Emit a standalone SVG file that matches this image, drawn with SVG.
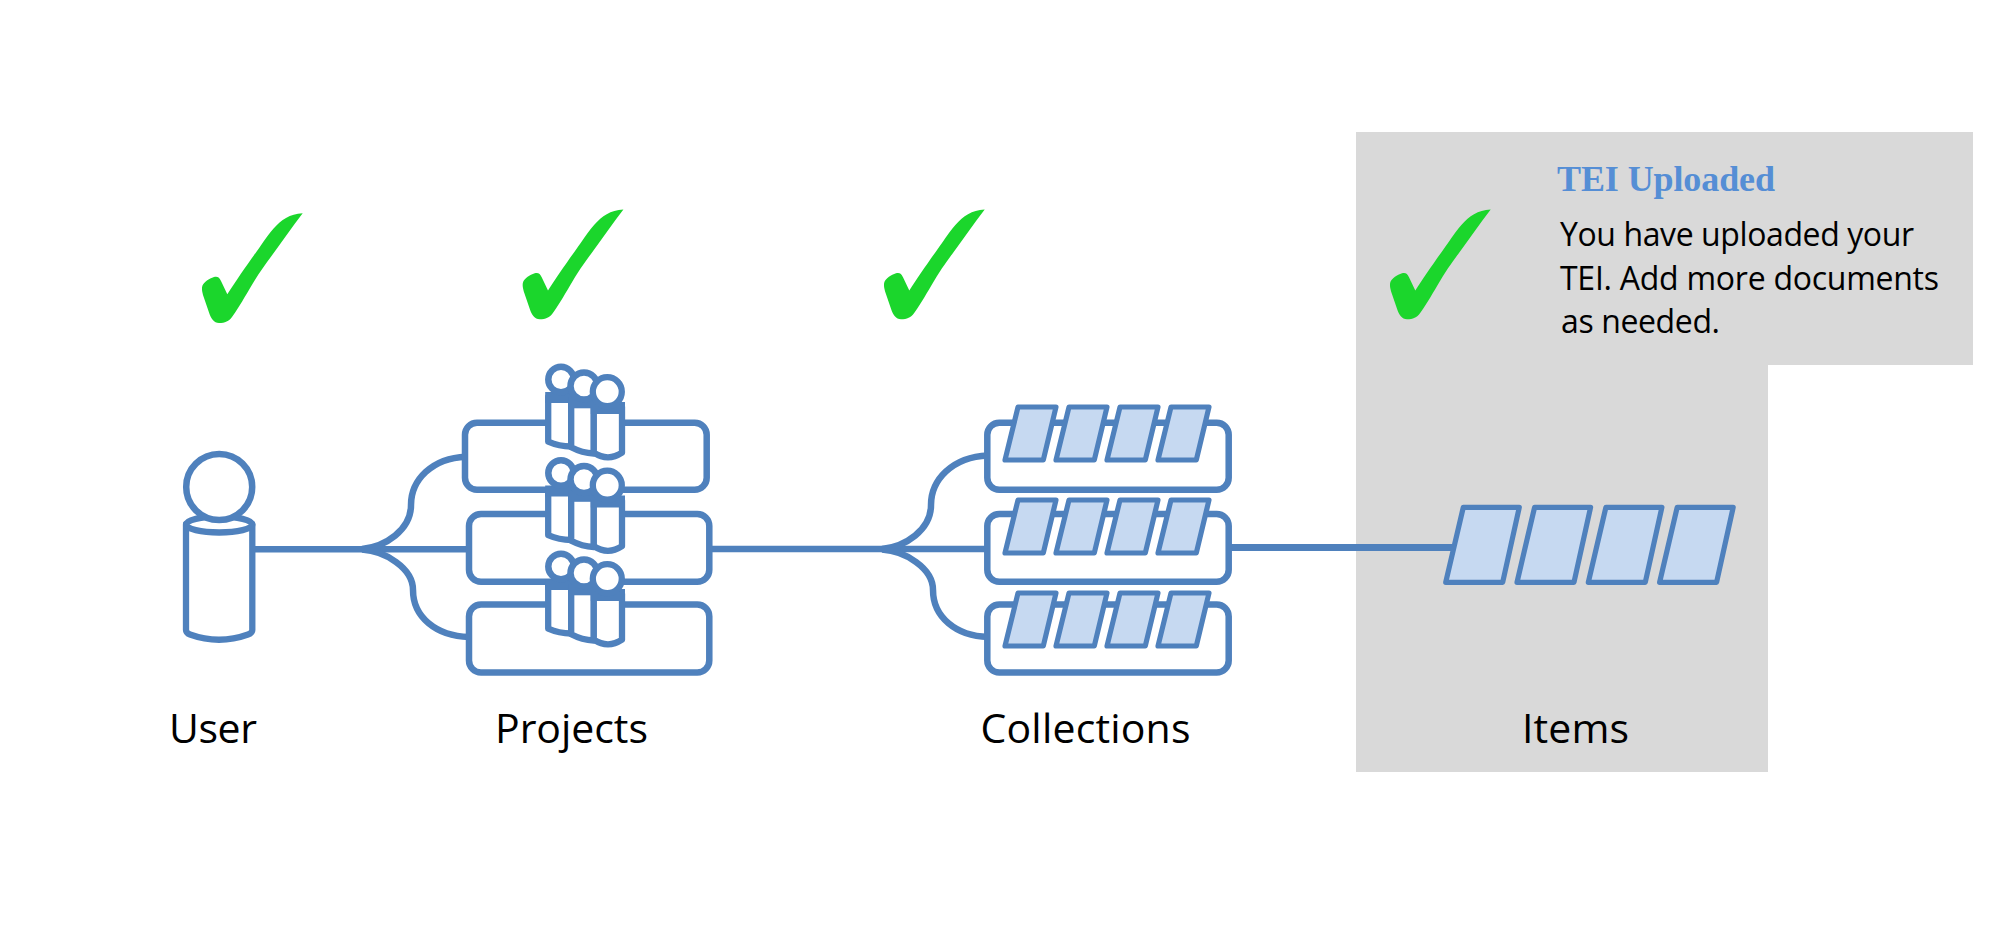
<svg xmlns="http://www.w3.org/2000/svg" xmlns:xlink="http://www.w3.org/1999/xlink" width="2000" height="925" viewBox="0 0 2000 925">
<style>
.ln{fill:none;stroke:#4F81BD;stroke-width:6.500}
.box{fill:#fff;stroke:#4F81BD;stroke-width:6.500}
.wh{fill:#fff;stroke:#4F81BD;stroke-width:6.300;stroke-linejoin:round}
.band{fill:#4F81BD}
.doc{fill:#C6D9F1;stroke:#4F81BD;stroke-width:5.200;stroke-linejoin:round}
.ck{fill:#1BD62C}
.lbl{font-family:"Open Sans","Noto Sans",sans-serif;font-size:41px;fill:#000}
.body{font-family:"Open Sans","Noto Sans",sans-serif;font-size:32px;fill:#000}
.ttl{font-family:"Liberation Serif",serif;font-size:36px;font-weight:bold;fill:#558ED5}
</style>
<defs>
<path id="check" class="ck" d="M302.700,213.300 C296,214 291,215 286,218 C277,223 270,232 260,246.700 C252,258 237,279 227.300,294.300 L221,281 C219.500,277.500 217.500,276 214,277 C209,278.500 204,282 202.500,285.500 C201.500,288 202,291 203,295 L209,312.500 C211,318.500 214,323 219,323 C225,323 229,321 232,317 C236,312 243,300 249.500,289 C257,276 264,266 271.500,256 C282,242 292,227 302.700,213.300 Z"/>
<g id="people">
<path class="wh" d="M548.200,397 V441.700 Q559,446.500 571.200,446.500 V397 Z"/>
<rect class="band" x="545.200" y="392" width="29" height="11"/>
<circle class="wh" style="stroke-width:6.500" cx="561" cy="379.500" r="12.700"/>
<path class="wh" d="M571.200,402 V447.300 Q582,453 593.800,453.500 V402 Z"/>
<rect class="band" x="568.200" y="397" width="28.600" height="11.300"/>
<circle class="wh" style="stroke-width:6.500" cx="584" cy="386" r="13.500"/>
<path class="wh" d="M593.800,407 V452.700 Q608,462 622,452.700 V407 Z"/>
<rect class="band" x="590.800" y="402" width="34.200" height="12"/>
<circle class="wh" cx="607.300" cy="391.700" r="14.500"/>
</g>
<g id="docs4">
<path class="doc" d="M1018,407 H1056 L1043.300,460 H1005 Z"/>
<path class="doc" d="M1069,407 H1107 L1094.300,460 H1056 Z"/>
<path class="doc" d="M1120,407 H1158 L1145.300,460 H1107 Z"/>
<path class="doc" d="M1171,407 H1209 L1196.300,460 H1158 Z"/>
</g>
</defs>
<rect width="2000" height="925" fill="#fff"/>
<polygon id="panel" points="1356,132 1973,132 1973,365 1768,365 1768,772 1356,772" fill="#D9D9D9"/>
<g id="connectors">
<path class="ln" d="M253,549.300 H470"/>
<path class="ln" d="M362,549 C385,547 411,530 411,505 C411,480 432,458 466,456.700"/>
<path class="ln" d="M362,549.600 C385,551 413,568 413,590 C413,617 436,636 469,637"/>
<path class="ln" d="M709,549 H988"/>
<path class="ln" d="M882,549 C905,547 931,530 931,505 C931,480 952,457 988,455.500"/>
<path class="ln" d="M882,549.600 C905,551 933,568 933,590 C933,617 956,636 988,637"/>
<path class="ln" style="stroke-width:7" d="M1229,547.500 H1456"/>
</g>
<g id="user">
<path class="wh" d="M186,524.500 V630 Q186,633 190,634.500 Q219,645 248,634.500 Q252.300,633 252.300,630 V524.500 Z"/>
<ellipse class="wh" cx="219.200" cy="524.500" rx="33.100" ry="8"/>
<circle class="wh" style="stroke-width:6.500" cx="219.200" cy="487" r="33"/>
<use xlink:href="#check" href="#check"/>
<text class="lbl" x="169" y="742.500" textLength="88" lengthAdjust="spacing">User</text>
</g>
<g id="projects">
<rect class="box" x="465" y="422.700" width="241.700" height="67" rx="12"/>
<rect class="box" x="469" y="514" width="240.300" height="67.700" rx="12"/>
<rect class="box" x="469" y="604.500" width="240.300" height="68" rx="12"/>
<use xlink:href="#people" href="#people"/>
<use xlink:href="#people" href="#people" transform="translate(0,93.500)"/>
<use xlink:href="#people" href="#people" transform="translate(0,187)"/>
<use xlink:href="#check" href="#check" transform="translate(320.700,-3.800)"/>
<text class="lbl" x="495" y="742.500" textLength="153" lengthAdjust="spacing">Projects</text>
</g>
<g id="collections">
<rect class="box" x="987.300" y="422.700" width="241.400" height="67" rx="12"/>
<rect class="box" x="987.300" y="514" width="241.400" height="67.700" rx="12"/>
<rect class="box" x="987.300" y="604.500" width="241.400" height="68" rx="12"/>
<use xlink:href="#docs4" href="#docs4"/>
<use xlink:href="#docs4" href="#docs4" transform="translate(0,93)"/>
<use xlink:href="#docs4" href="#docs4" transform="translate(0,186)"/>
<use xlink:href="#check" href="#check" transform="translate(682,-3.800)"/>
<text class="lbl" x="980.500" y="742.500" textLength="210" lengthAdjust="spacing">Collections</text>
</g>
<g id="items">
<path class="doc" d="M1463.300,507.300 H1519.300 L1502.700,582.300 H1445.700 Z"/>
<path class="doc" d="M1534.600,507.300 H1590.600 L1574,582.300 H1517 Z"/>
<path class="doc" d="M1605.900,507.300 H1661.900 L1645.300,582.300 H1588.300 Z"/>
<path class="doc" d="M1677.200,507.300 H1733.200 L1716.600,582.300 H1659.600 Z"/>
<use xlink:href="#check" href="#check" transform="translate(1188,-3.800)"/>
<text class="lbl" x="1522" y="742.500" textLength="107" lengthAdjust="spacing">Items</text>
</g>
<g id="message">
<text class="ttl" x="1557" y="191" textLength="218" lengthAdjust="spacing">TEI Uploaded</text>
<text class="body" x="1560" y="246" textLength="354" lengthAdjust="spacing">You have uploaded your</text>
<text class="body" x="1560" y="289.500" textLength="379" lengthAdjust="spacing">TEI. Add more documents</text>
<text class="body" x="1561" y="333" textLength="159" lengthAdjust="spacing">as needed.</text>
</g>
</svg>
